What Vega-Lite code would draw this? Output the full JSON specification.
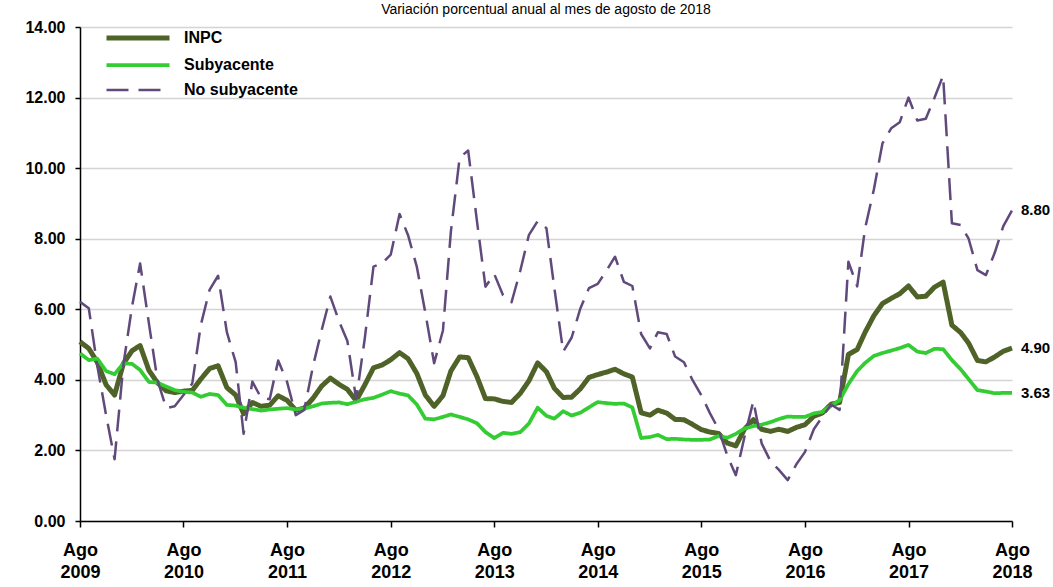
{
  "$schema": "https://vega.github.io/schema/vega-lite/v6.json",
  "width": 932,
  "height": 494,
  "autosize": {"type": "none"},
  "padding": {"left": 80, "top": 27, "right": 41, "bottom": 66},
  "background": "white",
  "title": {"text": "Variación porcentual anual al mes de agosto de 2018", "fontSize": 14, "font": "Liberation Sans", "fontWeight": "normal", "color": "black", "offset": 2, "anchor": "middle"},
  "data": {"values": [
    {"fecha": "2009-08-01", "INPC": 5.08, "Subyacente": 4.75, "No subyacente": 6.21},
    {"fecha": "2009-09-01", "INPC": 4.89, "Subyacente": 4.56, "No subyacente": 6.03},
    {"fecha": "2009-10-01", "INPC": 4.50, "Subyacente": 4.60, "No subyacente": 4.40},
    {"fecha": "2009-11-01", "INPC": 3.86, "Subyacente": 4.25, "No subyacente": 3.00},
    {"fecha": "2009-12-01", "INPC": 3.57, "Subyacente": 4.16, "No subyacente": 1.75},
    {"fecha": "2010-01-01", "INPC": 4.46, "Subyacente": 4.47, "No subyacente": 4.43},
    {"fecha": "2010-02-01", "INPC": 4.83, "Subyacente": 4.45, "No subyacente": 6.10},
    {"fecha": "2010-03-01", "INPC": 4.97, "Subyacente": 4.28, "No subyacente": 7.30},
    {"fecha": "2010-04-01", "INPC": 4.27, "Subyacente": 3.94, "No subyacente": 5.60},
    {"fecha": "2010-05-01", "INPC": 3.92, "Subyacente": 3.92, "No subyacente": 4.00},
    {"fecha": "2010-06-01", "INPC": 3.69, "Subyacente": 3.81, "No subyacente": 3.20},
    {"fecha": "2010-07-01", "INPC": 3.64, "Subyacente": 3.71, "No subyacente": 3.25},
    {"fecha": "2010-08-01", "INPC": 3.68, "Subyacente": 3.66, "No subyacente": 3.57},
    {"fecha": "2010-09-01", "INPC": 3.70, "Subyacente": 3.64, "No subyacente": 3.90},
    {"fecha": "2010-10-01", "INPC": 4.02, "Subyacente": 3.52, "No subyacente": 5.55},
    {"fecha": "2010-11-01", "INPC": 4.32, "Subyacente": 3.60, "No subyacente": 6.55},
    {"fecha": "2010-12-01", "INPC": 4.40, "Subyacente": 3.57, "No subyacente": 6.95},
    {"fecha": "2011-01-01", "INPC": 3.78, "Subyacente": 3.29, "No subyacente": 5.35},
    {"fecha": "2011-02-01", "INPC": 3.57, "Subyacente": 3.27, "No subyacente": 4.50},
    {"fecha": "2011-03-01", "INPC": 3.04, "Subyacente": 3.21, "No subyacente": 2.47},
    {"fecha": "2011-04-01", "INPC": 3.36, "Subyacente": 3.17, "No subyacente": 3.95},
    {"fecha": "2011-05-01", "INPC": 3.25, "Subyacente": 3.13, "No subyacente": 3.50},
    {"fecha": "2011-06-01", "INPC": 3.28, "Subyacente": 3.16, "No subyacente": 3.45},
    {"fecha": "2011-07-01", "INPC": 3.55, "Subyacente": 3.18, "No subyacente": 4.55},
    {"fecha": "2011-08-01", "INPC": 3.42, "Subyacente": 3.20, "No subyacente": 3.95},
    {"fecha": "2011-09-01", "INPC": 3.14, "Subyacente": 3.16, "No subyacente": 3.00},
    {"fecha": "2011-10-01", "INPC": 3.20, "Subyacente": 3.19, "No subyacente": 3.15},
    {"fecha": "2011-11-01", "INPC": 3.48, "Subyacente": 3.25, "No subyacente": 4.40},
    {"fecha": "2011-12-01", "INPC": 3.82, "Subyacente": 3.33, "No subyacente": 5.40},
    {"fecha": "2012-01-01", "INPC": 4.05, "Subyacente": 3.35, "No subyacente": 6.36},
    {"fecha": "2012-02-01", "INPC": 3.87, "Subyacente": 3.36, "No subyacente": 5.65},
    {"fecha": "2012-03-01", "INPC": 3.73, "Subyacente": 3.31, "No subyacente": 5.10},
    {"fecha": "2012-04-01", "INPC": 3.41, "Subyacente": 3.38, "No subyacente": 3.45},
    {"fecha": "2012-05-01", "INPC": 3.85, "Subyacente": 3.45, "No subyacente": 5.15},
    {"fecha": "2012-06-01", "INPC": 4.34, "Subyacente": 3.49, "No subyacente": 7.21},
    {"fecha": "2012-07-01", "INPC": 4.42, "Subyacente": 3.58, "No subyacente": 7.30},
    {"fecha": "2012-08-01", "INPC": 4.57, "Subyacente": 3.68, "No subyacente": 7.55},
    {"fecha": "2012-09-01", "INPC": 4.77, "Subyacente": 3.61, "No subyacente": 8.70},
    {"fecha": "2012-10-01", "INPC": 4.60, "Subyacente": 3.56, "No subyacente": 8.10},
    {"fecha": "2012-11-01", "INPC": 4.18, "Subyacente": 3.30, "No subyacente": 7.20},
    {"fecha": "2012-12-01", "INPC": 3.57, "Subyacente": 2.90, "No subyacente": 5.90},
    {"fecha": "2013-01-01", "INPC": 3.25, "Subyacente": 2.88, "No subyacente": 4.47},
    {"fecha": "2013-02-01", "INPC": 3.55, "Subyacente": 2.95, "No subyacente": 5.40},
    {"fecha": "2013-03-01", "INPC": 4.25, "Subyacente": 3.02, "No subyacente": 8.20},
    {"fecha": "2013-04-01", "INPC": 4.65, "Subyacente": 2.95, "No subyacente": 10.30},
    {"fecha": "2013-05-01", "INPC": 4.63, "Subyacente": 2.88, "No subyacente": 10.50},
    {"fecha": "2013-06-01", "INPC": 4.09, "Subyacente": 2.77, "No subyacente": 8.50},
    {"fecha": "2013-07-01", "INPC": 3.47, "Subyacente": 2.52, "No subyacente": 6.64},
    {"fecha": "2013-08-01", "INPC": 3.46, "Subyacente": 2.35, "No subyacente": 7.00},
    {"fecha": "2013-09-01", "INPC": 3.39, "Subyacente": 2.50, "No subyacente": 6.40},
    {"fecha": "2013-10-01", "INPC": 3.36, "Subyacente": 2.47, "No subyacente": 6.20},
    {"fecha": "2013-11-01", "INPC": 3.62, "Subyacente": 2.52, "No subyacente": 7.10},
    {"fecha": "2013-12-01", "INPC": 3.97, "Subyacente": 2.76, "No subyacente": 8.10},
    {"fecha": "2014-01-01", "INPC": 4.48, "Subyacente": 3.21, "No subyacente": 8.50},
    {"fecha": "2014-02-01", "INPC": 4.23, "Subyacente": 2.98, "No subyacente": 8.30},
    {"fecha": "2014-03-01", "INPC": 3.76, "Subyacente": 2.90, "No subyacente": 6.60},
    {"fecha": "2014-04-01", "INPC": 3.50, "Subyacente": 3.11, "No subyacente": 4.80},
    {"fecha": "2014-05-01", "INPC": 3.51, "Subyacente": 2.99, "No subyacente": 5.20},
    {"fecha": "2014-06-01", "INPC": 3.75, "Subyacente": 3.07, "No subyacente": 6.03},
    {"fecha": "2014-07-01", "INPC": 4.07, "Subyacente": 3.22, "No subyacente": 6.60},
    {"fecha": "2014-08-01", "INPC": 4.15, "Subyacente": 3.37, "No subyacente": 6.72},
    {"fecha": "2014-09-01", "INPC": 4.22, "Subyacente": 3.34, "No subyacente": 7.10},
    {"fecha": "2014-10-01", "INPC": 4.30, "Subyacente": 3.32, "No subyacente": 7.49},
    {"fecha": "2014-11-01", "INPC": 4.17, "Subyacente": 3.33, "No subyacente": 6.78},
    {"fecha": "2014-12-01", "INPC": 4.08, "Subyacente": 3.22, "No subyacente": 6.66},
    {"fecha": "2015-01-01", "INPC": 3.07, "Subyacente": 2.35, "No subyacente": 5.30},
    {"fecha": "2015-02-01", "INPC": 3.00, "Subyacente": 2.38, "No subyacente": 4.89},
    {"fecha": "2015-03-01", "INPC": 3.14, "Subyacente": 2.44, "No subyacente": 5.35},
    {"fecha": "2015-04-01", "INPC": 3.06, "Subyacente": 2.32, "No subyacente": 5.30},
    {"fecha": "2015-05-01", "INPC": 2.88, "Subyacente": 2.33, "No subyacente": 4.66},
    {"fecha": "2015-06-01", "INPC": 2.87, "Subyacente": 2.31, "No subyacente": 4.50},
    {"fecha": "2015-07-01", "INPC": 2.74, "Subyacente": 2.30, "No subyacente": 4.00},
    {"fecha": "2015-08-01", "INPC": 2.59, "Subyacente": 2.30, "No subyacente": 3.57},
    {"fecha": "2015-09-01", "INPC": 2.52, "Subyacente": 2.31, "No subyacente": 3.05},
    {"fecha": "2015-10-01", "INPC": 2.48, "Subyacente": 2.41, "No subyacente": 2.60},
    {"fecha": "2015-11-01", "INPC": 2.21, "Subyacente": 2.36, "No subyacente": 1.85},
    {"fecha": "2015-12-01", "INPC": 2.13, "Subyacente": 2.47, "No subyacente": 1.30},
    {"fecha": "2016-01-01", "INPC": 2.61, "Subyacente": 2.62, "No subyacente": 2.40},
    {"fecha": "2016-02-01", "INPC": 2.87, "Subyacente": 2.69, "No subyacente": 3.40},
    {"fecha": "2016-03-01", "INPC": 2.60, "Subyacente": 2.73, "No subyacente": 2.20},
    {"fecha": "2016-04-01", "INPC": 2.54, "Subyacente": 2.80, "No subyacente": 1.70},
    {"fecha": "2016-05-01", "INPC": 2.60, "Subyacente": 2.89, "No subyacente": 1.45},
    {"fecha": "2016-06-01", "INPC": 2.54, "Subyacente": 2.96, "No subyacente": 1.16},
    {"fecha": "2016-07-01", "INPC": 2.65, "Subyacente": 2.95, "No subyacente": 1.60},
    {"fecha": "2016-08-01", "INPC": 2.73, "Subyacente": 2.95, "No subyacente": 1.96},
    {"fecha": "2016-09-01", "INPC": 2.97, "Subyacente": 3.05, "No subyacente": 2.60},
    {"fecha": "2016-10-01", "INPC": 3.06, "Subyacente": 3.09, "No subyacente": 2.95},
    {"fecha": "2016-11-01", "INPC": 3.31, "Subyacente": 3.27, "No subyacente": 3.30},
    {"fecha": "2016-12-01", "INPC": 3.36, "Subyacente": 3.42, "No subyacente": 3.15},
    {"fecha": "2017-01-01", "INPC": 4.72, "Subyacente": 3.88, "No subyacente": 7.35},
    {"fecha": "2017-02-01", "INPC": 4.86, "Subyacente": 4.25, "No subyacente": 6.65},
    {"fecha": "2017-03-01", "INPC": 5.35, "Subyacente": 4.48, "No subyacente": 8.30},
    {"fecha": "2017-04-01", "INPC": 5.82, "Subyacente": 4.68, "No subyacente": 9.40},
    {"fecha": "2017-05-01", "INPC": 6.16, "Subyacente": 4.76, "No subyacente": 10.70},
    {"fecha": "2017-06-01", "INPC": 6.31, "Subyacente": 4.83, "No subyacente": 11.13},
    {"fecha": "2017-07-01", "INPC": 6.44, "Subyacente": 4.90, "No subyacente": 11.30},
    {"fecha": "2017-08-01", "INPC": 6.66, "Subyacente": 4.99, "No subyacente": 12.00},
    {"fecha": "2017-09-01", "INPC": 6.35, "Subyacente": 4.80, "No subyacente": 11.35},
    {"fecha": "2017-10-01", "INPC": 6.37, "Subyacente": 4.76, "No subyacente": 11.40},
    {"fecha": "2017-11-01", "INPC": 6.63, "Subyacente": 4.88, "No subyacente": 12.00},
    {"fecha": "2017-12-01", "INPC": 6.77, "Subyacente": 4.87, "No subyacente": 12.62},
    {"fecha": "2018-01-01", "INPC": 5.55, "Subyacente": 4.56, "No subyacente": 8.44},
    {"fecha": "2018-02-01", "INPC": 5.34, "Subyacente": 4.30, "No subyacente": 8.39},
    {"fecha": "2018-03-01", "INPC": 5.04, "Subyacente": 4.02, "No subyacente": 8.00},
    {"fecha": "2018-04-01", "INPC": 4.55, "Subyacente": 3.71, "No subyacente": 7.11},
    {"fecha": "2018-05-01", "INPC": 4.51, "Subyacente": 3.67, "No subyacente": 6.97},
    {"fecha": "2018-06-01", "INPC": 4.65, "Subyacente": 3.62, "No subyacente": 7.60},
    {"fecha": "2018-07-01", "INPC": 4.81, "Subyacente": 3.63, "No subyacente": 8.35},
    {"fecha": "2018-08-01", "INPC": 4.90, "Subyacente": 3.63, "No subyacente": 8.80}
  ]},
  "transform": [{"fold": ["INPC", "Subyacente", "No subyacente"], "as": ["serie", "valor"]}],
  "encoding": {
    "x": {
      "field": "fecha", "type": "temporal", "title": null,
      "scale": {"type": "utc", "domain": [{"year": 2009, "month": 8, "date": 1, "utc": true}, {"year": 2018, "month": 8, "date": 1, "utc": true}]},
      "axis": {
        "values": [
          {"year": 2009, "month": 8, "date": 1, "utc": true},
          {"year": 2010, "month": 8, "date": 1, "utc": true},
          {"year": 2011, "month": 8, "date": 1, "utc": true},
          {"year": 2012, "month": 8, "date": 1, "utc": true},
          {"year": 2013, "month": 8, "date": 1, "utc": true},
          {"year": 2014, "month": 8, "date": 1, "utc": true},
          {"year": 2015, "month": 8, "date": 1, "utc": true},
          {"year": 2016, "month": 8, "date": 1, "utc": true},
          {"year": 2017, "month": 8, "date": 1, "utc": true},
          {"year": 2018, "month": 8, "date": 1, "utc": true}
        ],
        "labelExpr": "['Ago', utcFormat(datum.value, '%Y')]",
        "grid": false, "domainColor": "black", "domainWidth": 1.5, "tickColor": "black", "tickSize": 6, "tickWidth": 1.5,
        "labelFont": "Liberation Sans", "labelFontWeight": "bold", "labelFontSize": 18, "labelColor": "black",
        "labelPadding": 14, "labelLineHeight": 22, "labelAlign": "center", "labelOverlap": false, "labelFlush": false, "labelBound": false
      }
    },
    "y": {
      "field": "valor", "type": "quantitative", "title": null,
      "scale": {"domain": [0, 14], "nice": false, "zero": true},
      "axis": {
        "values": [0, 2, 4, 6, 8, 10, 12, 14], "format": ".2f",
        "grid": true, "gridColor": "#d4d4d4", "gridWidth": 1.3,
        "domainColor": "black", "domainWidth": 1.5, "tickColor": "black", "tickSize": 5, "tickWidth": 1.5,
        "labelFont": "Liberation Sans", "labelFontWeight": "bold", "labelFontSize": 16, "labelColor": "black", "labelPadding": 10
      }
    }
  },
  "layer": [
    {
      "mark": {"type": "line", "strokeJoin": "round", "strokeCap": "butt", "clip": false},
      "encoding": {
        "color": {"field": "serie", "type": "nominal", "title": null,
          "scale": {"domain": ["INPC", "Subyacente", "No subyacente"], "range": ["#4f6228", "#33cc33", "#604a7b"]}},
        "strokeWidth": {"field": "serie", "type": "nominal", "title": null,
          "scale": {"domain": ["INPC", "Subyacente", "No subyacente"], "range": [5, 2.5, 2.8]}},
        "strokeDash": {"field": "serie", "type": "nominal", "title": null,
          "scale": {"domain": ["INPC", "Subyacente", "No subyacente"], "range": [[1, 0], [1, 0], [22, 10]]}}
      }
    },
    {
      "transform": [{"filter": "utcyear(datum.fecha) == 2018 && utcmonth(datum.fecha) == 7"}],
      "mark": {"type": "text", "align": "left", "baseline": "middle", "dx": 9, "font": "Liberation Sans", "fontWeight": "bold", "fontSize": 15, "color": "black", "clip": false},
      "encoding": {"text": {"field": "valor", "type": "quantitative", "format": ".2f"}}
    }
  ],
  "config": {
    "view": {"stroke": null},
    "legend": {
      "orient": "none", "legendX": 45, "legendY": -2, "padding": 0,
      "symbolType": "M-3,0H3", "symbolSize": 441, "labelOffset": 33, "rowPadding": 4.5,
      "labelFont": "Liberation Sans", "labelFontWeight": "bold", "labelFontSize": 16, "labelColor": "black", "labelLimit": 300
    }
  }
}
